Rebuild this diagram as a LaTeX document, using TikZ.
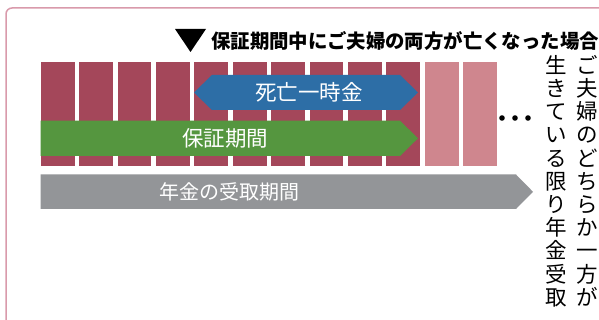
\documentclass[tikz,border=0pt]{standalone}
\usepackage{fontspec}
\newfontfamily\jp{Noto Sans CJK JP}
\usetikzlibrary{positioning}
\definecolor{framepink}{HTML}{D99AAB}
\definecolor{coldark}{HTML}{A4475A}
\definecolor{collight}{HTML}{CF868E}
\definecolor{lumpblue}{HTML}{2D6EA6}
\definecolor{guargreen}{HTML}{55963F}
\definecolor{paygray}{HTML}{939598}

\begin{document}
\begin{tikzpicture}[
        x=1pt, y=-1pt,
        col/.style={fill=coldark},
        collt/.style={fill=collight},
        barlabel/.style={text=white, inner sep=0pt, font=\jp\fontsize{21.5}{21.5}\selectfont},
        vtext/.style={anchor=north, align=center, inner sep=0pt, font=\jp\fontsize{21.5}{23.2}\selectfont}
    ]
    \useasboundingbox (0,0) rectangle (599,320);
    \fill[white] (0,0) rectangle (599,320);

    % MARCO
    \draw[framepink, line width=1.5pt, rounded corners=6pt] (6,8) rectangle (640,360);

    % TITULO
    \fill (175,29) -- (206,29) -- (190.5,52) -- cycle;
    \node[anchor=west, inner sep=0pt, font=\jp\bfseries\fontsize{19.4}{19.4}\selectfont] (titulo) at (211,41) {保証期間中にご夫婦の両方が亡くなった場合};

    % COLUMNAS
    \foreach \i in {0,...,9}
        \fill[col] (40.7+38.4*\i,62) rectangle ++(33.8,104);
    \foreach \i in {10,11}
        \fill[collt] (40.7+38.4*\i,62) rectangle ++(33.8,104);

    % FLECHAS
    \fill[lumpblue] (194,92.5) -- (212,75) -- (400,75) -- (418,92.5) -- (400,110) -- (212,110) -- cycle;
    \node[barlabel] (lump) at (309,92.5) {死亡一時金};

    \fill[guargreen] (40.7,120.7) -- (400,120.7) -- (418,138.3) -- (400,156) -- (40.7,156) -- cycle;
    \node[barlabel] (guar) at (225,138.3) {保証期間};

    \fill[paygray] (40.7,174.5) -- (516,174.5) -- (533,191.8) -- (516,209) -- (40.7,209) -- cycle;
    \node[barlabel, font=\jp\fontsize{20}{20}\selectfont] (pay) at (229,191.8) {年金の受取期間};

    % PUNTOS
    \foreach \x in {502,515,528}
        \fill (\x,118) circle (2.8);

    % TEXTO VERTICAL
    \node[vtext] (vright) at (587,55) {ご\\夫\\婦\\の\\ど\\ち\\ら\\か\\一\\方\\が};
    \node[vtext] (vleft) at (556,55) {生\\き\\て\\い\\る\\限\\り\\年\\金\\受\\取};
\end{tikzpicture}
\end{document}
